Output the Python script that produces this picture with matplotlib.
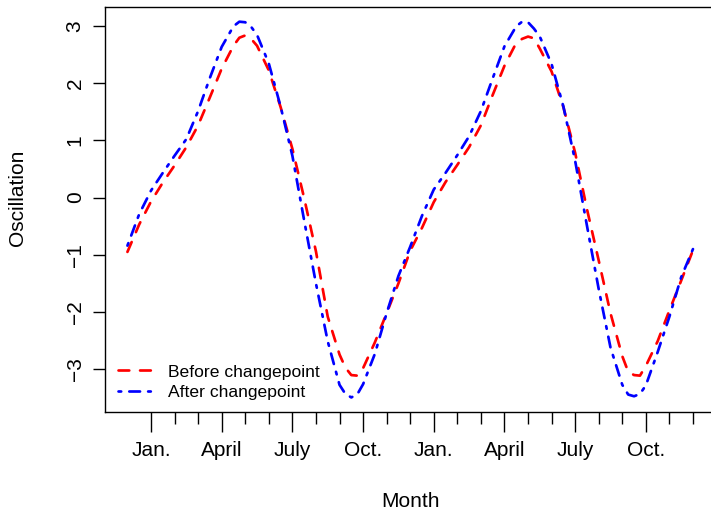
import matplotlib
matplotlib.use("Agg")
import matplotlib.pyplot as plt
from matplotlib.ticker import FixedLocator, NullFormatter

plt.rcParams['font.family'] = ['Liberation Sans', 'DejaVu Sans']

# Month index: 1 = Jan. of the first year, 24 = Dec. of the second year
months = [0, 0.5, 1, 1.5, 2, 2.5, 3, 3.5, 4, 4.5, 4.75, 5, 5.25, 5.5, 6, 6.5,
          7, 7.5, 8, 8.5, 9, 9.25, 9.5, 9.75, 10, 10.5, 11, 11.5, 12, 12.5,
          13, 13.5, 14, 14.5, 15, 15.5, 16, 16.5, 16.75, 17, 17.25, 17.5, 18,
          18.5, 19, 19.5, 20, 20.5, 21, 21.25, 21.5, 21.75, 22, 22.5, 23,
          23.5, 24]

before = [-0.95, -0.47, -0.07, 0.26, 0.56, 0.88, 1.26, 1.75, 2.25, 2.65, 2.79,
          2.83, 2.77, 2.65, 2.22, 1.58, 0.85, -0.01, -0.94, -2.08, -2.74,
          -2.97, -3.10, -3.11, -2.98, -2.53, -2.02, -1.50, -0.93, -0.53,
          -0.08, 0.27, 0.57, 0.88, 1.26, 1.79, 2.30, 2.70, 2.77, 2.81, 2.78,
          2.60, 2.20, 1.58, 0.78, -0.20, -1.10, -2.02, -2.77, -3.04, -3.10,
          -3.11, -2.94, -2.51, -1.97, -1.45, -0.92]

after = [-0.84, -0.29, 0.12, 0.43, 0.73, 1.02, 1.51, 2.09, 2.63, 2.99, 3.07,
         3.06, 2.98, 2.84, 2.34, 1.59, 0.73, -0.40, -1.50, -2.51, -3.27,
         -3.43, -3.49, -3.44, -3.26, -2.73, -2.02, -1.37, -0.86, -0.32,
         0.14, 0.43, 0.74, 1.07, 1.51, 2.08, 2.64, 2.99, 3.07, 3.06, 2.95,
         2.81, 2.33, 1.59, 0.64, -0.49, -1.60, -2.62, -3.27, -3.44, -3.47,
         -3.43, -3.28, -2.70, -2.08, -1.39, -0.90]

labelled_months = [1, 4, 7, 10, 13, 16, 19, 22]
month_labels = ["Jan.", "April", "July", "Oct.", "Jan.", "April", "July", "Oct."]
other_months = [m for m in range(1, 25) if m not in labelled_months]
y_ticks = [-3, -2, -1, 0, 1, 2, 3]

W, H = 711, 511
fig = plt.figure(figsize=(W / 100, H / 100), dpi=100)

# plot region in pixels (left, top, right, bottom)
left, top, right, bottom = 104.8, 6.8, 715.6, 412.3
ax = fig.add_axes([left / W, 1 - bottom / H, (right - left) / W, (bottom - top) / H])

lw = 1.94
ax.plot(months, before, color='#FF0000', lw=lw, linestyle=(0, (4, 4)),
        dash_capstyle='round', label='Before changepoint')
ax.plot(months, after, color='#0000FF', lw=lw, linestyle=(0, (1, 3, 4, 3)),
        dash_capstyle='round', label='After changepoint')

ax.set_xlim(-0.96, 24.96)
ax.set_ylim(-3.75, 3.33)

for s in ax.spines.values():
    s.set_linewidth(1.0)
    s.set_color('black')

ax.xaxis.set_major_locator(FixedLocator(labelled_months))
ax.set_xticklabels(month_labels)
ax.xaxis.set_minor_locator(FixedLocator(other_months))
ax.xaxis.set_minor_formatter(NullFormatter())
ax.tick_params(axis='x', which='major', length=14.4, width=1.0, pad=6,
               labelsize=15, direction='out')
ax.tick_params(axis='x', which='minor', length=8.6, width=1.0, direction='out')

ax.set_yticks(y_ticks)
ax.set_yticklabels([f"{v}".replace('-', '\u2212') for v in y_ticks],
                   rotation=90, va='center')
ax.tick_params(axis='y', which='major', length=9, width=1.0, pad=5.5,
               labelsize=15, direction='out')

fig.text(410.2 / W, 1 - 506.5 / H, 'Month', ha='center', va='baseline', fontsize=15)
fig.text(18 / W, 1 - 197.5 / H, 'Oscillation', ha='center', va='center',
         rotation=90, fontsize=15)

fs_leg = 12.6
ax.legend(loc='center left', bbox_to_anchor=(118 / W, 1 - 382 / H),
          bbox_transform=fig.transFigure, frameon=False, fontsize=fs_leg,
          borderpad=0, borderaxespad=0, handlelength=1.94, handletextpad=0.91,
          labelspacing=0.28)

fig.savefig('out.png', dpi=100)
